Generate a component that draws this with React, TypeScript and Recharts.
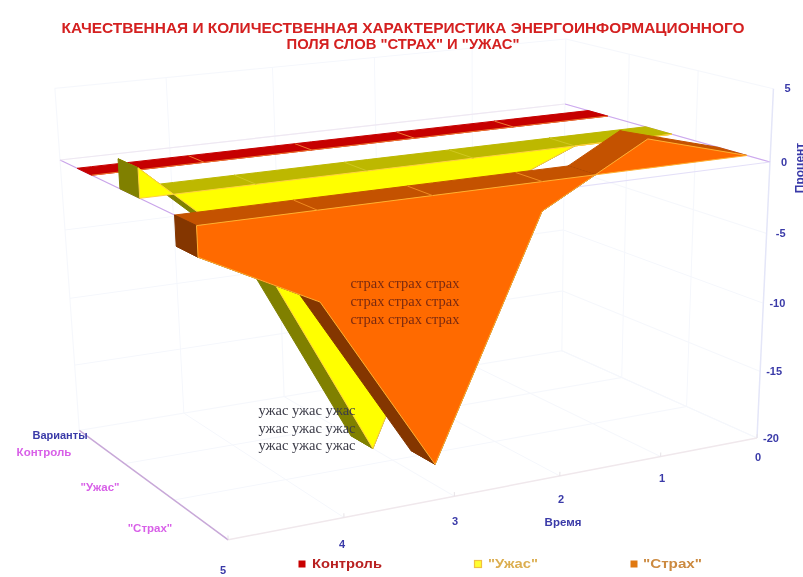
import React from 'react';
import { ComposedChart, Area, Line, Scatter, XAxis, YAxis } from 'recharts';

// ---------- data ----------
const times = [0, 1, 2, 3, 4, 5];
const control = [0, 0, 0, 0, 0, 0];
const uzhas = [0, 0, -3, -20, -5, 2];
const strakh = [0, 2, -2, -18.5, -6, -2];
const valueTicks = [5, 0, -5, -10, -15, -20];
const variantNames = ['Контроль', '"Ужас"', '"Страх"'];
const titleLines = [
  'КАЧЕСТВЕННАЯ И КОЛИЧЕСТВЕННАЯ ХАРАКТЕРИСТИКА ЭНЕРГОИНФОРМАЦИОННОГО',
  'ПОЛЯ СЛОВ "СТРАХ" И "УЖАС"',
];
const strakhNote = ['страх страх страх', 'страх страх страх', 'страх страх страх'];
const uzhasNote = ['ужас ужас ужас', 'ужас ужас ужас', 'ужас ужас ужас'];

// ---------- camera calibration: the 3D chart box seen from the right ----------
const BL = [60, 160], BR = [565, 104], FR = [770, 162], FL = [214, 234];
const VP = [488, 6150];
const homography = () => {
  const [x0, y0] = BL, [x1, y1] = BR, [x2, y2] = FR, [x3, y3] = FL;
  const dx1 = x1 - x2, dx2 = x3 - x2, sx = x0 - x1 + x2 - x3;
  const dy1 = y1 - y2, dy2 = y3 - y2, sy = y0 - y1 + y2 - y3;
  const den = dx1 * dy2 - dx2 * dy1;
  const g = (sx * dy2 - dx2 * sy) / den;
  const h = (dx1 * sy - sx * dy1) / den;
  return { a: x1 - x0 + g * x1, b: x3 - x0 + h * x3, c: x0, d: y1 - y0 + g * y1, e: y3 - y0 + h * y3, f: y0, g, h };
};
const H = homography();
const base = (t: number, d: number) => {
  const u = 1 - t / 5, w = d / 3;
  return { hx: H.a * u + H.b * w + H.c, hy: H.d * u + H.e * w + H.f, hw: H.g * u + H.h * w + 1 };
};
const K = (() => {
  const { hy, hw } = base(0, 3);
  const yAtMin = 438;
  return (hy - yAtMin * hw) / (-20 * (yAtMin - VP[1]));
})();
type Pt = [number, number];
const P = (t: number, d: number, v: number): Pt => {
  const { hx, hy, hw } = base(t, d);
  const k = K * v;
  return [(hx + k * VP[0]) / (hw + k), (hy + k * VP[1]) / (hw + k)];
};

// ---------- polygon -> band for a range Area ----------
const toBand = (poly: Pt[]) => {
  const xs = Array.from(new Set(poly.map((p) => p[0]))).sort((a, b) => a - b);
  return xs.map((x) => {
    const ys: number[] = [];
    poly.forEach((p, i) => {
      const q = poly[(i + 1) % poly.length];
      const lo = Math.min(p[0], q[0]), hi = Math.max(p[0], q[0]);
      if (x < lo || x > hi) return;
      if (p[0] === q[0]) ys.push(p[1], q[1]);
      else ys.push(p[1] + ((x - p[0]) / (q[0] - p[0])) * (q[1] - p[1]));
    });
    return { x, band: [Math.min(...ys), Math.max(...ys)] };
  });
};

type Face = { data: { x: number; band: number[] }[]; fill: string; stroke: string };
type Seg = { x: number; y: number }[];
const seg = (a: Pt, b: Pt): Seg => (a[0] <= b[0] ? [{ x: a[0], y: a[1] }, { x: b[0], y: b[1] }] : [{ x: b[0], y: b[1] }, { x: a[0], y: a[1] }]);

type Ribbon = { vals: number[]; d0: number; d1: number; front: string; cap: string; under: string; edge: string; divider: string };
const ribbons: Ribbon[] = [
  { vals: control, d0: 0.38, d1: 0.69, front: '#ff2000', cap: '#c60000', under: '#800000', edge: '#ff9a50', divider: '#ee7a30' },
  { vals: uzhas, d0: 1.27, d1: 1.66, front: '#ffff00', cap: '#bdb800', under: '#808000', edge: '#ffd040', divider: '#d0c820' },
  { vals: strakh, d0: 2.31, d1: 2.7, front: '#ff6a00', cap: '#c45200', under: '#843600', edge: '#ffb030', divider: '#f08a20' },
];

// Splits the time axis at the points where a series crosses zero.
const breakpoints = (vals: number[]) => {
  const out: { t: number; v: number }[] = [];
  times.forEach((t, i) => {
    out.push({ t, v: vals[i] });
    if (i < times.length - 1 && vals[i] * vals[i + 1] < 0) {
      out.push({ t: t + vals[i] / (vals[i] - vals[i + 1]), v: 0 });
    }
  });
  return out;
};

const buildRibbon = (r: Ribbon) => {
  const faces: Face[] = [];
  const lines: Seg[] = [];
  const bp = breakpoints(r.vals);
  const pairs = bp.slice(0, -1).map((a, i) => [a, bp[i + 1]]);
  // value surface
  pairs.forEach(([a, b]) => {
    const up = a.v + b.v > 0;
    if (a.v === 0 && b.v === 0) return;
    faces.push({
      data: toBand([P(a.t, r.d0, a.v), P(b.t, r.d0, b.v), P(b.t, r.d1, b.v), P(a.t, r.d1, a.v)]),
      fill: up ? r.cap : r.under,
      stroke: up ? r.cap : r.under,
    });
  });
  // zero cap
  pairs.forEach(([a, b]) => {
    if (a.v + b.v > 0) return;
    faces.push({
      data: toBand([P(a.t, r.d0, 0), P(b.t, r.d0, 0), P(b.t, r.d1, 0), P(a.t, r.d1, 0)]),
      fill: r.cap,
      stroke: r.cap,
    });
  });
  // dividers on the cap
  times.forEach((t, i) => {
    if (i === 0 || i === times.length - 1 || r.vals[i] > 0) return;
    lines.push(seg(P(t, r.d0, 0), P(t, r.d1, 0)));
  });
  // left end
  const last = times.length - 1;
  if (r.vals[last] !== 0) {
    faces.push({
      data: toBand([P(5, r.d0, 0), P(5, r.d1, 0), P(5, r.d1, r.vals[last]), P(5, r.d0, r.vals[last])]),
      fill: r.under,
      stroke: r.under,
    });
  }
  // front
  const hasDepth = r.vals.some((v) => v !== 0);
  if (hasDepth) {
    const zero = bp.map((b) => P(b.t, r.d1, 0));
    const val = bp.map((b) => P(b.t, r.d1, b.v)).reverse();
    faces.push({ data: toBand([...zero, ...val]), fill: r.front, stroke: r.edge });
  } else {
    lines.push(seg(P(0, r.d1, 0), P(5, r.d1, 0)));
  }
  return { faces, lines, divider: r.divider };
};

// ---------- walls, floor, edges ----------
type Rule = { seg: Seg; color: string; w?: number };
const rules: Rule[] = [];
const grid = '#f5f7fc';
valueTicks.forEach((v) => {
  rules.push({ seg: seg(P(0, 0, v), P(5, 0, v)), color: grid });
  rules.push({ seg: seg(P(0, 0, v), P(0, 3, v)), color: grid });
});
times.forEach((t) => {
  rules.push({ seg: seg(P(t, 0, -20), P(t, 0, 5)), color: grid });
  rules.push({ seg: seg(P(t, 0, -20), P(t, 3, -20)), color: grid });
});
[1, 2].forEach((d) => {
  rules.push({ seg: seg(P(0, d, -20), P(5, d, -20)), color: grid });
  rules.push({ seg: seg(P(0, d, -20), P(0, d, 5)), color: grid });
});
rules.push({ seg: seg(P(0, 3, -20), P(0, 3, 5)), color: '#e4e6f8', w: 1.5 });
rules.push({ seg: seg(P(0, 3, -20), P(5, 3, -20)), color: '#f0e8ec', w: 1.5 });
rules.push({ seg: seg(P(5, 0, -20), P(5, 3, -20)), color: '#c8a8d8', w: 1.5 });
rules.push({ seg: seg(P(5, 0, 0), P(5, 3, 0)), color: '#c9a4ea', w: 1.2 });
rules.push({ seg: seg(P(0, 0, 0), P(0, 3, 0)), color: '#cda8ee', w: 1.2 });
rules.push({ seg: seg(P(0, 0, 0), P(5, 0, 0)), color: '#efe8f2', w: 1.2 });
rules.push({ seg: seg(P(0, 3, 0), P(5, 3, 0)), color: '#e4e0f8', w: 1.2 });
times.forEach((t) => rules.push({ seg: seg(P(t, 3, -20), P(t, 3, -19.7)), color: '#e8e4e8' }));

// ---------- text ----------
type Label = { x: number; y: number; text?: string; size?: number; color?: string; weight?: string; family?: string; anchor?: string; rotate?: number; square?: string; border?: string; fit?: number };
const SANS = 'Liberation Sans, Arial, sans-serif';
const SERIF = 'Liberation Serif, serif';
const labels: Label[] = [];
titleLines.forEach((text, i) => labels.push({ x: 403, y: 33 + i * 16, text, size: 15, color: '#d42020', weight: 'bold', family: SANS, fit: i === 0 ? 683 : 233 }));
const blue = '#3a3aa8';
valueTicks.forEach((v) => {
  const [x, y] = P(0, 3, v);
  labels.push({ x: x + 14, y: y + 3.5, text: String(v), size: 11, color: blue, weight: 'bold', family: SANS });
});
const timeLabelAt: Pt[] = [[758, 461], [662, 482], [561, 503], [455, 525], [342, 548], [223, 574]];
times.forEach((t, i) => {
  labels.push({ x: timeLabelAt[i][0], y: timeLabelAt[i][1], text: String(t), size: 11, color: blue, weight: 'bold', family: SANS });
});
labels.push({ x: 563, y: 526, text: 'Время', size: 11.5, color: blue, weight: 'bold', family: SANS });
labels.push({ x: 60, y: 439, text: 'Варианты', size: 11, color: blue, weight: 'bold', family: SANS });
labels.push({ x: 804, y: 168, text: 'Процент', size: 12, color: blue, weight: 'bold', family: SANS, rotate: -90 });
const variantPos: Pt[] = [[44, 456], [100, 491], [150, 532]];
variantNames.forEach((text, i) => labels.push({ x: variantPos[i][0], y: variantPos[i][1], text, size: 11.5, color: '#d860e8', weight: 'bold', family: SANS }));
strakhNote.forEach((text, i) => labels.push({ x: 405, y: 288 + i * 18, text, size: 14.5, color: '#7a2a10', family: SERIF }));
uzhasNote.forEach((text, i) => labels.push({ x: 307, y: 415 + i * 17.5, text, size: 14.5, color: '#3c3c48', family: SERIF }));
labels.push({ x: 302, y: 564, square: '#c80000' });
labels.push({ x: 312, y: 568, text: 'Контроль', size: 13, color: '#b82020', weight: 'bold', family: SANS, anchor: 'start', fit: 70 });
labels.push({ x: 478, y: 564, square: '#ffff30', border: '#f0c040' });
labels.push({ x: 488, y: 568, text: '"Ужас"', size: 13, color: '#dcae50', weight: 'bold', family: SANS, anchor: 'start', fit: 50 });
labels.push({ x: 634, y: 564, square: '#e07810' });
labels.push({ x: 643, y: 568, text: '"Страх"', size: 13, color: '#cc8a40', weight: 'bold', family: SANS, anchor: 'start', fit: 59 });

const LabelMark = (p: any) => {
  const l: Label = p.payload;
  const x = p.cx ?? p.x;
  const y = p.cy ?? p.y;
  if (l.square) {
    return <rect x={x - 3.5} y={y - 3.5} width={7} height={7} fill={l.square} stroke={l.border ?? 'none'} strokeWidth={1.2} />;
  }
  return (
    <text x={x} y={y} fontSize={l.size} fill={l.color} fontWeight={l.weight ?? 'normal'} fontFamily={l.family}
      textAnchor={(l.anchor as any) ?? 'middle'} textLength={l.fit} lengthAdjust={l.fit ? 'spacingAndGlyphs' : undefined}
      transform={l.rotate ? `rotate(${l.rotate} ${x} ${y})` : undefined}>
      {l.text}
    </text>
  );
};

export default function App() {
  const built = ribbons.map(buildRibbon);
  return (
    <div style={{ position: 'absolute', left: 0, top: 0, width: 803, height: 577, overflow: 'hidden', background: '#fff', filter: 'blur(0.45px)' }}>
      <ComposedChart width={803} height={577} margin={{ top: 0, right: 0, bottom: 0, left: 0 }}>
        <XAxis dataKey="x" type="number" domain={[0, 803]} hide allowDataOverflow />
        <YAxis type="number" domain={[0, 577]} reversed hide width={0} allowDataOverflow />
        {rules.map((r, i) => (
          <Line key={`rule${i}`} data={r.seg} dataKey="y" stroke={r.color} strokeWidth={r.w ?? 1} dot={false} activeDot={false} legendType="none" isAnimationActive={false} {...({ zIndex: 50 } as any)} />
        ))}
        {built.flatMap((b, ri) => [
          ...b.faces.map((f, i) => (
            <Area key={`f${ri}-${i}`} data={f.data} dataKey="band" type="linear" fill={f.fill} fillOpacity={1} stroke={f.stroke} strokeWidth={1} dot={false} activeDot={false} legendType="none" isAnimationActive={false} {...({ zIndex: 100 + ri * 3 } as any)} />
          )),
          ...b.lines.map((s, i) => (
            <Line key={`l${ri}-${i}`} data={s} dataKey="y" stroke={b.divider} strokeWidth={1} dot={false} activeDot={false} legendType="none" isAnimationActive={false} {...({ zIndex: 101 + ri * 3 } as any)} />
          )),
        ])}
        <Scatter data={labels} dataKey="y" shape={LabelMark} isAnimationActive={false} legendType="none" />
      </ComposedChart>
    </div>
  );
}
